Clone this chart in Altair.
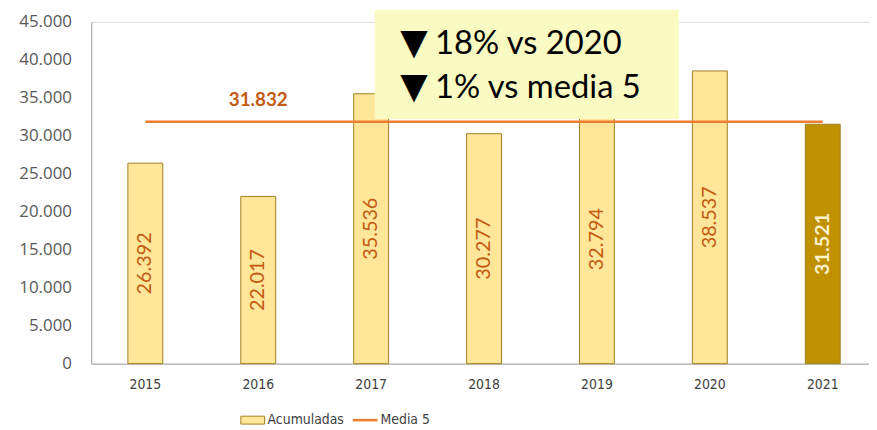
import altair as alt
import pandas as pd

years = ["2015", "2016", "2017", "2018", "2019", "2020", "2021"]
acumuladas = [26392, 22017, 35536, 30277, 32794, 38537, 31521]
media5 = 31832
annotation_lines = ["18% vs 2020", "1% vs media 5"]
y_ticks = [0, 5000, 10000, 15000, 20000, 25000, 30000, 35000, 40000, 45000]


def fmt(v):
    return f"{v:,}".replace(",", ".")


bars_df = pd.DataFrame({
    "year": years,
    "value": acumuladas,
    "label": [fmt(v) for v in acumuladas],
    "current": [y == years[-1] for y in years],
})
line_df = pd.DataFrame({"year": years, "media": [media5] * len(years)})
mean_label_df = pd.DataFrame({"year": [years[1]], "media": [media5], "label": [fmt(media5)]})

W, H = 785, 345
FONT = "Lato"
NARROW = "Liberation Sans Narrow, DejaVu Sans Condensed, Roboto"

x_scale = alt.Scale(domain=years, paddingInner=0.691, paddingOuter=0.29, align=0.56)
x_axis = alt.Axis(labelAngle=0, labelFont=NARROW, labelFontSize=14,
                  labelColor="#404040", ticks=False, domainColor="#A6A6A6",
                  labelPadding=14, grid=False)
y_scale = alt.Scale(domain=[0, 45000], nice=False)
y_axis = alt.Axis(values=y_ticks, grid=False, ticks=False, domainColor="#A6A6A6",
                  labelFont="Open Sans", labelFontSize=17, labelColor="#595959",
                  labelPadding=20, labelOverlap=False, labelFlush=False,
                  labelBound=False,
                  labelExpr="replace(format(datum.value, ','), regexp(',', 'g'), '.')")


def X():
    return alt.X("year:N", title=None, scale=x_scale, axis=x_axis)


def Y(field):
    return alt.Y(field, title=None, scale=y_scale, axis=y_axis)


base = alt.Chart(bars_df)
bars = base.mark_bar(stroke="#A08020", strokeWidth=1).encode(
    x=X(), y=Y("value:Q"),
    color=alt.condition("datum.current", alt.value("#BF9000"), alt.value("#FFE699")),
)
bar_text_hist = base.transform_filter("!datum.current").transform_calculate(
    mid="datum.value / 2"
).mark_text(angle=270, font=FONT, fontSize=20, baseline="middle", align="center",
            color="#C55A11").encode(
    x=X(), y=Y("mid:Q"), text="label:N",
)
bar_text_cur = base.transform_filter("datum.current").transform_calculate(
    mid="datum.value / 2"
).mark_text(angle=270, font=FONT, fontSize=20, fontWeight="bold", baseline="middle",
            align="center", color="#FFF2CC").encode(
    x=X(), y=Y("mid:Q"), text="label:N",
)

line = alt.Chart(line_df).mark_line(color="#ED7D31", strokeWidth=2.5).encode(
    x=X(), y=Y("media:Q"),
)
mean_text = alt.Chart(mean_label_df).mark_text(
    font=FONT, fontSize=19, fontWeight="bold", color="#C55A11", dy=-22, baseline="middle"
).encode(x=X(), y=Y("media:Q"), text="label:N")

# annotation box (pixel placement relative to plot area)
ann_box = alt.Chart(pd.DataFrame({"a": [0]})).mark_rect(color="#F9FBC3").encode(
    x=alt.value(286), x2=alt.value(593), y=alt.value(-12), y2=alt.value(98)
)
ann_layers = []
for txt, yb in zip(annotation_lines, [32, 77]):
    ann_layers.append(alt.Chart(pd.DataFrame({"t": ["▼"]})).mark_text(
        font="DejaVu Sans", fontSize=36, color="#000000", align="left", baseline="alphabetic"
    ).encode(x=alt.value(312), y=alt.value(yb), text="t:N"))
    ann_layers.append(alt.Chart(pd.DataFrame({"t": [txt]})).mark_text(
        font=FONT, fontSize=33, color="#000000", align="left", baseline="alphabetic"
    ).encode(x=alt.value(347), y=alt.value(yb), text="t:N"))

# legend
leg_rect = alt.Chart(pd.DataFrame({"a": [0]})).mark_rect(
    color="#FFE699", stroke="#A08020", strokeWidth=1
).encode(x=alt.value(151), x2=alt.value(175), y=alt.value(398), y2=alt.value(406))
leg_line = alt.Chart(pd.DataFrame({"a": [0]})).mark_rule(
    color="#ED7D31", strokeWidth=2.5
).encode(x=alt.value(264), x2=alt.value(289), y=alt.value(402))
leg_text1 = alt.Chart(pd.DataFrame({"t": ["Acumuladas"]})).mark_text(
    font=NARROW, fontSize=14, color="#404040", align="left", baseline="middle"
).encode(x=alt.value(178), y=alt.value(402), text="t:N")
leg_text2 = alt.Chart(pd.DataFrame({"t": ["Media 5"]})).mark_text(
    font=NARROW, fontSize=14, color="#404040", align="left", baseline="middle"
).encode(x=alt.value(292), y=alt.value(402), text="t:N")

chart = alt.layer(
    bars, bar_text_hist, bar_text_cur, line, mean_text, ann_box, *ann_layers,
    leg_rect, leg_line, leg_text1, leg_text2
).properties(
    width=W, height=H,
    autosize=alt.AutoSizeParams(type="none"),
    padding={"left": 84, "top": 12, "right": 0, "bottom": 66},
).configure_view(strokeWidth=0).configure(background="white")

chart.save("out.html", embed_options={"renderer": "svg", "actions": False})
